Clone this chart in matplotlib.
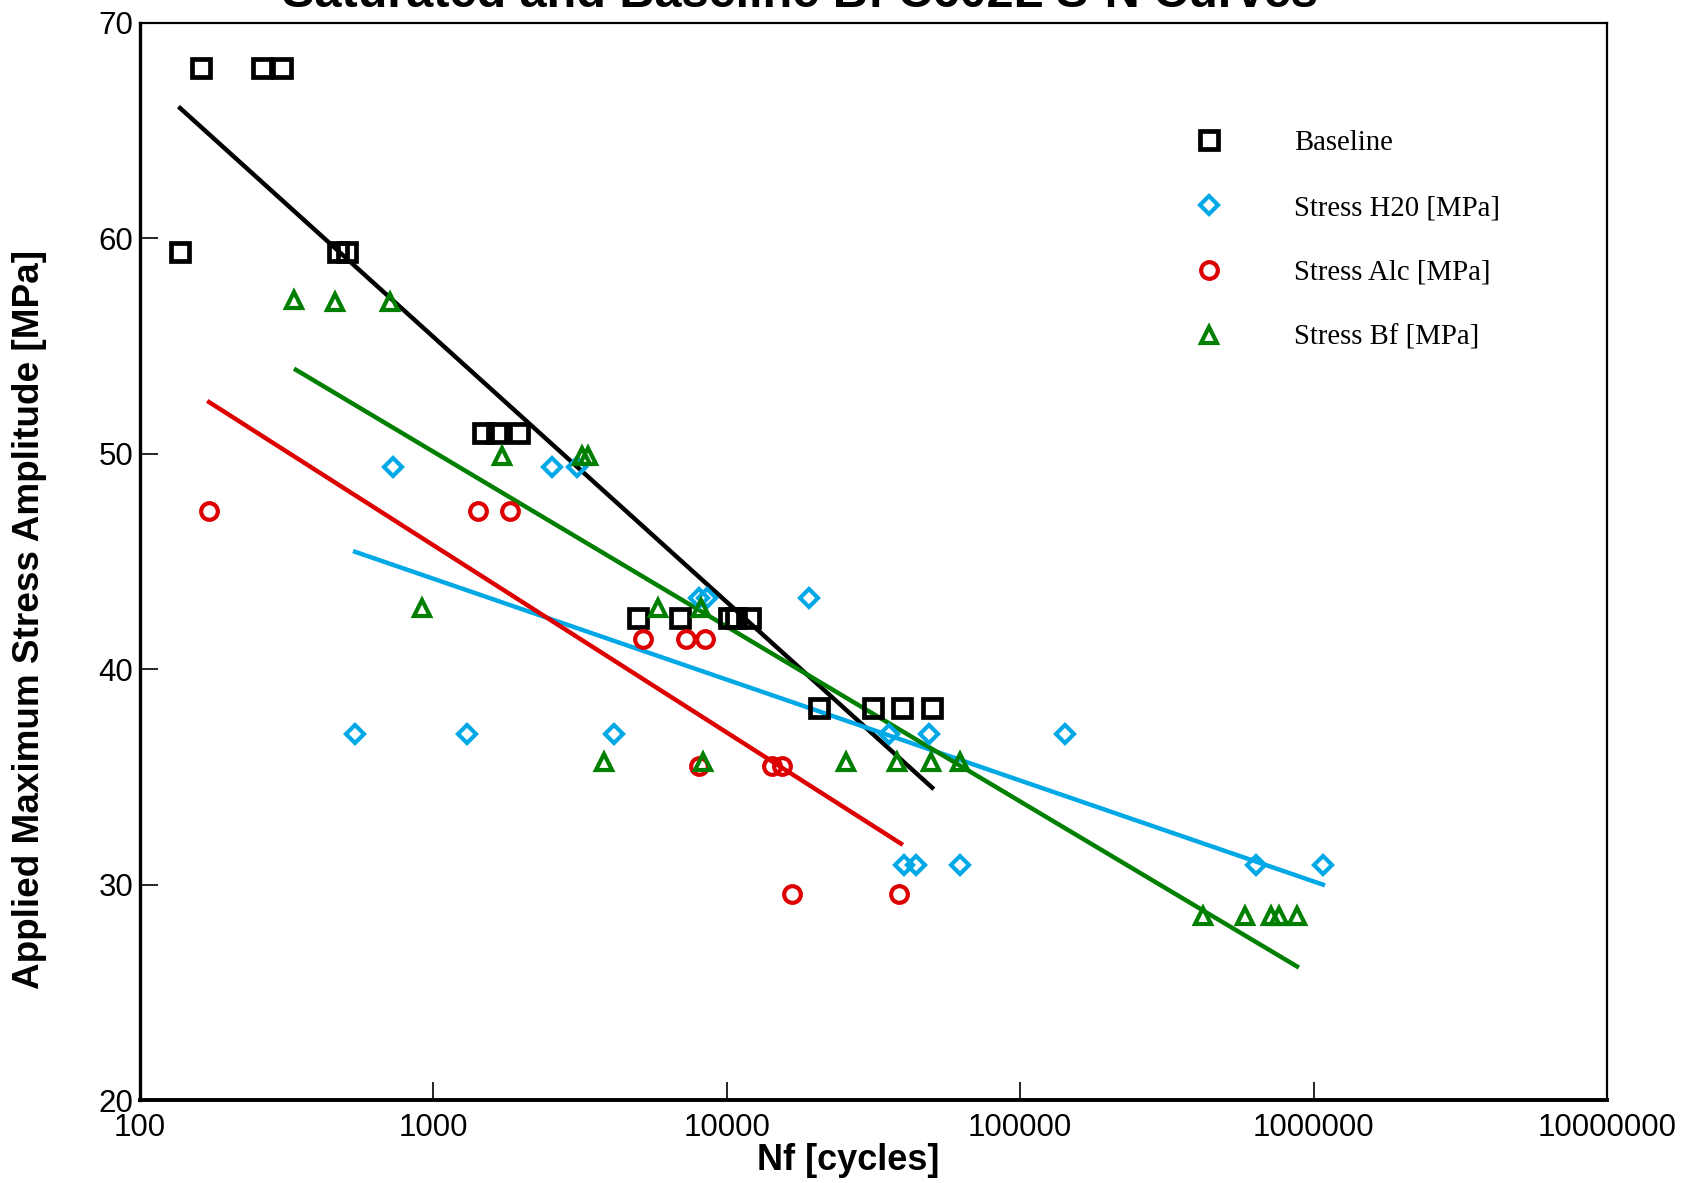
import numpy as np
import matplotlib
matplotlib.use("Agg")
import matplotlib.pyplot as plt

# ---- data ----
base_x = [162, 260, 305, 137, 473, 506, 1479, 1652, 1955, 4990, 6940, 10150, 10770, 12020,
          20640, 31480, 39550, 50120]
base_y = [67.9, 67.9, 67.9, 59.35, 59.35, 59.35, 50.95, 50.95, 50.95, 42.4, 42.4, 42.4, 42.4, 42.4,
          38.2, 38.2, 38.2, 38.2]

h20_x = [728, 2541, 3083, 541, 1304, 4111, 8017, 8570, 19130, 35730, 48850, 141600,
         40230, 44150, 62410, 636800, 1075300]
h20_y = [49.4, 49.4, 49.4, 37.0, 37.0, 37.0, 43.3, 43.3, 43.3, 37.0, 37.0, 37.0,
         30.9, 30.9, 30.9, 30.9, 30.9]

alc_x = [172, 1419, 1828, 5167, 7244, 8433, 8017, 14230, 15480, 16710, 38550]
alc_y = [47.35, 47.35, 47.35, 41.4, 41.4, 41.4, 35.5, 35.5, 35.5, 29.55, 29.55]

bf_x = [335, 461, 710, 1708, 3219, 3357, 914, 5814, 8150, 3811, 8290, 25500, 37930, 49660, 62370,
        420800, 584900, 716400, 760000, 877700]
bf_y = [57.15, 57.05, 57.05, 49.9, 49.9, 49.9, 42.85, 42.85, 42.85, 35.7, 35.7, 35.7, 35.7, 35.7, 35.7,
        28.55, 28.55, 28.55, 28.55, 28.55]

# trend-line end points
base_fit_x = [137, 50120]
base_fit_y = [66.05, 34.5]
h20_fit_x = [541, 1075300]
h20_fit_y = [45.45, 30.0]
alc_fit_x = [172, 39230]
alc_fit_y = [52.4, 31.9]
bf_fit_x = [340, 877700]
bf_fit_y = [53.9, 26.2]

labels = ["Baseline", "Stress H20 [MPa]", "Stress Alc [MPa]", "Stress Bf [MPa]"]
x_ticks = [100, 1000, 10000, 100000, 1000000, 10000000]
y_ticks = [20, 30, 40, 50, 60, 70]

BLACK = "#000000"
BLUE = "#00A8E6"
RED = "#DD0000"
GREEN = "#007F00"

SANS = ["Liberation Sans", "DejaVu Sans"]
SERIF = ["Liberation Serif", "DejaVu Serif"]

W, H = 1688, 1183
fig = plt.figure(figsize=(W / 100, H / 100), dpi=100)
L, R, T, B = 140, 1607, 23, 1100
ax = fig.add_axes([L / W, 1 - B / H, (R - L) / W, (B - T) / H])

lw = 3.2
ax.plot(base_fit_x, base_fit_y, color=BLACK, lw=lw, zorder=2)
ax.plot(h20_fit_x, h20_fit_y, color=BLUE, lw=lw, zorder=2)
ax.plot(alc_fit_x, alc_fit_y, color=RED, lw=lw, zorder=2)
ax.plot(bf_fit_x, bf_fit_y, color=GREEN, lw=lw, zorder=2)

mew = 3.0
h1, = ax.plot(base_x, base_y, ls="none", marker="s", ms=12.5, mfc="none", mec=BLACK, mew=3.4, zorder=3)
h2, = ax.plot(h20_x, h20_y, ls="none", marker="D", ms=9.5, mfc="none", mec=BLUE, mew=mew, zorder=3)
h3, = ax.plot(alc_x, alc_y, ls="none", marker="o", ms=12, mfc="none", mec=RED, mew=mew, zorder=3)
h4, = ax.plot(bf_x, bf_y, ls="none", marker="^", ms=11.5, mfc="none", mec=GREEN, mew=mew, zorder=3)

ax.set_xscale("log")
ax.set_xlim(100, 10000000)
ax.set_ylim(20, 70)
ax.set_xticks(x_ticks)
ax.set_xticklabels([str(v) for v in x_ticks])
ax.xaxis.set_minor_locator(matplotlib.ticker.NullLocator())
ax.set_yticks(y_ticks)
ax.set_yticklabels([str(v) for v in y_ticks])

ax.tick_params(axis="x", direction="in", length=13, width=1.2, pad=9,
               labelsize=22.5, labelfontfamily=SANS)
ax.tick_params(axis="y", direction="in", length=13, width=1.2, pad=5,
               labelsize=22.5, labelfontfamily=SANS)

ax.spines["left"].set_linewidth(2.4)
ax.spines["bottom"].set_linewidth(2.8)
ax.spines["top"].set_linewidth(1.6)
ax.spines["right"].set_linewidth(1.6)

fig.text((140 + 0.4826 * 1467) / W, 1 - 1161 / H, "Nf [cycles]", ha="center", va="center",
         family=SANS, size=26, weight="bold")
fig.text(30 / W, 1 - 619 / H, "Applied Maximum Stress Amplitude [MPa]", ha="center", va="center",
         rotation=90, family=SANS, size=26.6, weight="bold")

fig.text(800 / W, 1 - 7 / H, "Saturated and Baseline Bf C602L S-N Curves",
         ha="center", va="baseline", family=SANS, size=35, weight="bold")

leg = fig.legend([h1, h2, h3, h4], labels, loc="upper left",
                 bbox_to_anchor=(1195 / W, 1 - 130 / H), bbox_transform=fig.transFigure,
                 frameon=False, borderpad=0, borderaxespad=0, handlelength=1.0,
                 handletextpad=2.45, labelspacing=1.35,
                 prop=dict(family=SERIF, size=20.7))

fig.savefig("out.png", dpi=100)
